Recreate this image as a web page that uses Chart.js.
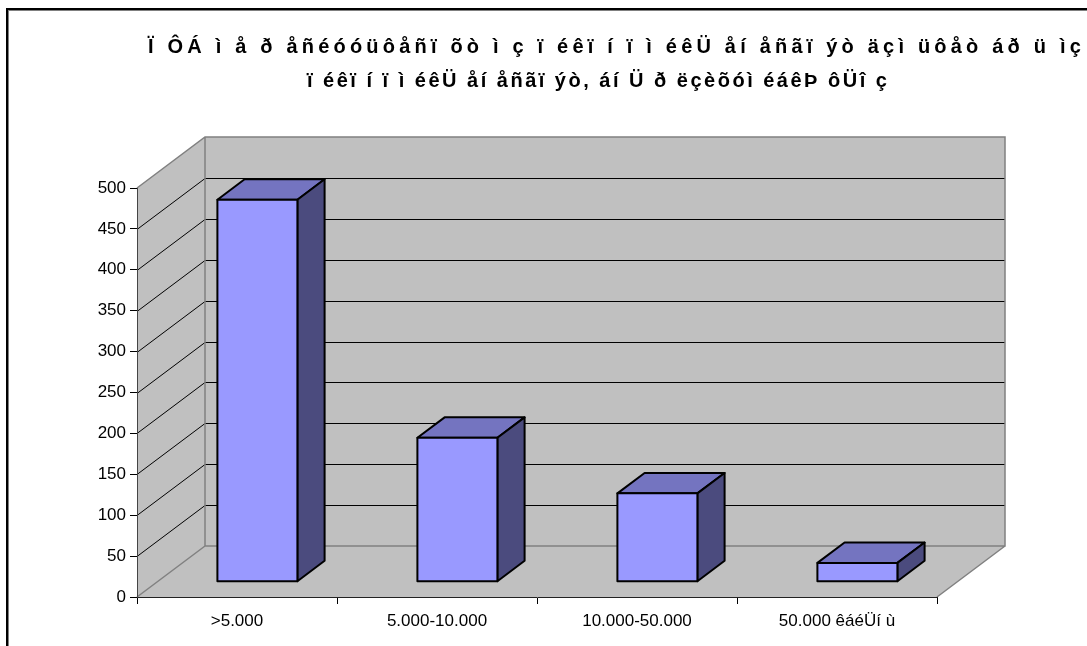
<!DOCTYPE html>
<html>
<head>
<meta charset="utf-8">
<script src="https://cdn.jsdelivr.net/npm/chart.js@4"></script>
<style>
  html, body { margin: 0; padding: 0; background: #fff; }
  #chart { display: block; }
</style>
</head>
<body>
<canvas id="chart" width="1087" height="646"></canvas>
<script>
// chart data
const categories = ['>5.000', '5.000-10.000', '10.000-50.000', '50.000 êáéÜí ù'];
const values = [467, 176, 108, 23];
const yMin = 0;
const yMax = 500;
const yStep = 50;
const titleLines = [
    'Ï ÔÁ ì å ð åñéóóüôåñï õò ì ç ï éêï í ï ì éêÜ åí åñãï ýò äçì üôåò áð ü ìç',
    'ï éêï í ï ì éêÜ åí åñãï ýò, áí Ü ð ëçèõóì éáêÞ ôÜî ç'
];

const FONT = '"Liberation Sans", Arial, sans-serif';

// depth of the 3d box (floor / walls) and where the bars sit inside it
const DEPTH_X = 68;
const DEPTH_Y = -51;
const BAR_FRONT = 0.3;
const BAR_BACK = 0.7;

function poly(ctx, pts, fill, stroke, lw) {
    ctx.beginPath();
    ctx.moveTo(pts[0][0], pts[0][1]);
    for (let i = 1; i < pts.length; i++) ctx.lineTo(pts[i][0], pts[i][1]);
    ctx.closePath();
    if (fill) { ctx.fillStyle = fill; ctx.fill(); }
    if (stroke) { ctx.strokeStyle = stroke; ctx.lineWidth = lw || 1; ctx.stroke(); }
}

// background, frame and the grey walls
const wallsPlugin = {
    id: 'walls',
    beforeDraw(chart) {
        const ctx = chart.ctx;
        const a = chart.chartArea;
        const yScale = chart.scales.y;
        const L = a.left, R = a.right, T = a.top, B = a.bottom;
        const dx = DEPTH_X, dy = DEPTH_Y;

        ctx.save();
        ctx.fillStyle = '#fff';
        ctx.fillRect(0, 0, chart.width, chart.height);

        // outer frame (only left and top are visible)
        ctx.fillStyle = '#000';
        ctx.fillRect(6, 8, 2, chart.height);
        ctx.fillRect(6, 8, chart.width, 2);
        ctx.fillStyle = '#808080';
        ctx.fillRect(8, 10, 1, chart.height);
        ctx.fillRect(8, 10, chart.width, 1);

        const wall = '#c0c0c0';
        const edge = '#808080';
        poly(ctx, [[L + dx, T + dy], [R + dx, T + dy], [R + dx, B + dy], [L + dx, B + dy]], wall, null);
        poly(ctx, [[L, B], [L, T], [L + dx, T + dy], [L + dx, B + dy]], wall, null);
        poly(ctx, [[L, B], [R, B], [R + dx, B + dy], [L + dx, B + dy]], wall, null);

        // gridlines on side wall and back wall
        ctx.strokeStyle = '#000';
        ctx.lineWidth = 1;
        for (let v = yMin + yStep; v < yMax; v += yStep) {
            const y = Math.round(yScale.getPixelForValue(v)) + 0.5;
            ctx.beginPath();
            ctx.moveTo(L, y);
            ctx.lineTo(L + dx, y + dy);
            ctx.lineTo(R + dx, y + dy);
            ctx.stroke();
        }

        // wall edges
        ctx.strokeStyle = edge;
        ctx.lineWidth = 1.5;
        ctx.beginPath();
        ctx.moveTo(L, T); ctx.lineTo(L + dx, T + dy); ctx.lineTo(R + dx, T + dy);
        ctx.lineTo(R + dx, B + dy); ctx.lineTo(L + dx, B + dy); ctx.lineTo(L + dx, T + dy);
        ctx.moveTo(L, B); ctx.lineTo(L + dx, B + dy);
        ctx.moveTo(R, B); ctx.lineTo(R + dx, B + dy);
        ctx.stroke();
        ctx.restore();
    }
};

// draws each bar as a box, using the positions chart.js gave the bar elements
const boxesPlugin = {
    id: 'boxes',
    afterDatasetsDraw(chart) {
        const ctx = chart.ctx;
        const meta = chart.getDatasetMeta(0);
        const fx = BAR_FRONT * DEPTH_X, fy = BAR_FRONT * DEPTH_Y;
        const bx = (BAR_BACK - BAR_FRONT) * DEPTH_X, by = (BAR_BACK - BAR_FRONT) * DEPTH_Y;

        ctx.save();
        ctx.lineJoin = 'round';
        meta.data.forEach(bar => {
            const p = bar.getProps(['x', 'y', 'base', 'width'], true);
            const x0 = p.x - p.width / 2 + fx;
            const x1 = p.x + p.width / 2 + fx;
            const top = p.y + fy;
            const bot = p.base + fy;

            poly(ctx, [[x0, top], [x1, top], [x1 + bx, top + by], [x0 + bx, top + by]], '#7474c0', '#000', 2);
            poly(ctx, [[x1, top], [x1 + bx, top + by], [x1 + bx, bot + by], [x1, bot]], '#4b4b7e', '#000', 2);
            poly(ctx, [[x0, top], [x1, top], [x1, bot], [x0, bot]], '#9999ff', '#000', 2);
        });
        ctx.restore();
    }
};

// two line title, first line runs off the right edge like the original
const titlePlugin = {
    id: 'titleLines',
    afterDraw(chart) {
        const ctx = chart.ctx;
        ctx.save();
        ctx.fillStyle = '#000';
        ctx.font = 'bold 20px ' + FONT;
        ctx.textBaseline = 'middle';
        ctx.textAlign = 'left';
        ctx.letterSpacing = '4.2px';
        ctx.fillText(titleLines[0], 148, 47);
        ctx.letterSpacing = '2.5px';
        ctx.fillText(titleLines[1], 307, 81);
        ctx.restore();
    }
};

function main() {
    const ctx = document.getElementById('chart').getContext('2d');
    new Chart(ctx, {
        type: 'bar',
        data: {
            labels: categories,
            datasets: [{
                data: values,
                backgroundColor: 'rgba(0,0,0,0)',
                borderWidth: 0,
                categoryPercentage: 0.4,
                barPercentage: 1.0
            }]
        },
        options: {
            responsive: false,
            animation: false,
            events: [],
            layout: { padding: { left: 0, top: 188, right: 150, bottom: 0 } },
            plugins: {
                legend: { display: false },
                title: { display: false },
                tooltip: { enabled: false }
            },
            scales: {
                x: {
                    offset: true,
                    grid: { offset: true, drawOnChartArea: false, drawTicks: true, tickLength: 7, color: '#000' },
                    border: { display: true, color: '#222', width: 1 },
                    ticks: { color: '#000', padding: 7, font: { family: FONT, size: 17 } },
                    afterFit(scale) { scale.height = 49; }
                },
                y: {
                    min: yMin,
                    max: yMax,
                    grid: { drawOnChartArea: false, drawTicks: true, tickLength: 7, color: '#000' },
                    border: { display: true, color: '#444', width: 1 },
                    ticks: { stepSize: yStep, color: '#000', padding: 4, font: { family: FONT, size: 17 } },
                    afterFit(scale) { scale.width = 137; }
                }
            }
        },
        plugins: [wallsPlugin, boxesPlugin, titlePlugin]
    });
}

window.onload = main;
</script>
</body>
</html>
